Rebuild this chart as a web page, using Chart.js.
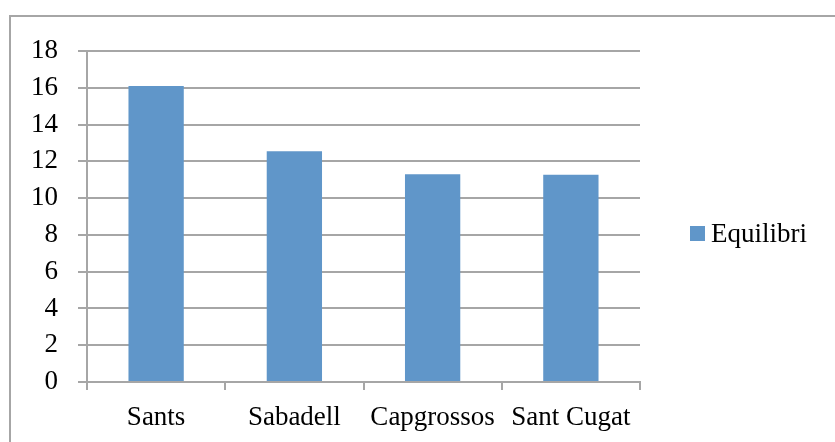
<!DOCTYPE html>
<html>
<head>
<meta charset="utf-8">
<script src="https://cdn.jsdelivr.net/npm/chart.js@4"></script>
<style>
  html, body { margin: 0; padding: 0; background: #ffffff; }
  #wrap { position: relative; width: 835px; height: 442px; }
</style>
</head>
<body>
<div id="wrap"><canvas id="chart" width="835" height="442"></canvas></div>
<script>
// ---------- Data ----------
const categories = ['Sants', 'Sabadell', 'Capgrossos', 'Sant Cugat'];
const seriesName = 'Equilibri';
const seriesValues = [16.1, 12.55, 11.3, 11.27];
const yTicks = [0, 2, 4, 6, 8, 10, 12, 14, 16, 18];

const FONT = "'Liberation Serif', 'Times New Roman', serif";
const BAR = '#6096c9';
const GRID = '#a6a6a6';

// outer frame + legend drawn by hand (Excel style)
const frameAndLegend = {
  id: 'frameAndLegend',
  beforeDraw(chart) {
    const c = chart.ctx;
    c.save();
    c.strokeStyle = GRID;
    c.lineWidth = 2;
    c.strokeRect(10, 16, 900, 500);
    c.restore();
  },
  afterDraw(chart) {
    const c = chart.ctx;
    const ds = chart.data.datasets[0];
    c.save();
    c.fillStyle = ds.backgroundColor;
    c.fillRect(690, 226, 15, 15);
    c.fillStyle = '#000';
    c.font = '27px ' + FONT;
    c.textBaseline = 'middle';
    c.textAlign = 'left';
    c.fillText(ds.label, 711, 235);
    c.restore();
  }
};

new Chart(document.getElementById('chart'), {
  type: 'bar',
  data: {
    labels: categories,
    datasets: [{
      label: seriesName,
      data: seriesValues,
      backgroundColor: BAR,
      borderWidth: 0,
      categoryPercentage: 1,
      barPercentage: 0.4
    }]
  },
  options: {
    responsive: false,
    animation: false,
    layout: { padding: { left: 0, right: 195, top: 51, bottom: 0 } },
    plugins: {
      legend: { display: false },
      tooltip: { enabled: false }
    },
    scales: {
      x: {
        offset: true,
        grid: {
          offset: true,
          drawOnChartArea: false,
          color: GRID,
          lineWidth: 2,
          tickLength: 8,
          tickColor: GRID
        },
        border: { display: true, color: GRID, width: 2 },
        ticks: { color: '#000', font: { family: FONT, size: 27 }, padding: 12, maxRotation: 0 },
        afterFit: (s) => { s.height = 60; }
      },
      y: {
        min: 0,
        max: 18,
        afterBuildTicks: (s) => { s.ticks = yTicks.map(v => ({ value: v })); },
        grid: {
          color: GRID,
          lineWidth: 2,
          tickLength: 9,
          tickColor: GRID
        },
        border: { display: true, color: GRID, width: 2 },
        ticks: { color: '#000', font: { family: FONT, size: 27 }, padding: 20 },
        afterFit: (s) => { s.width = 87; }
      }
    }
  },
  plugins: [frameAndLegend]
});
</script>
</body>
</html>
